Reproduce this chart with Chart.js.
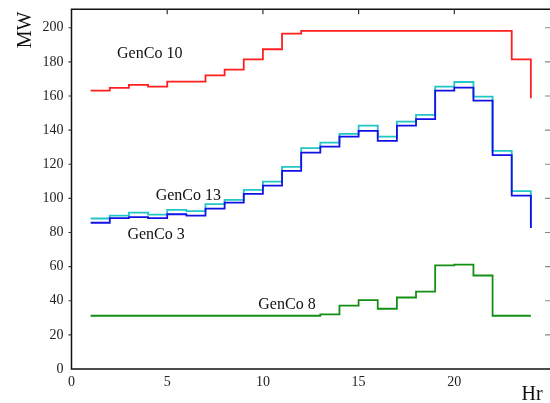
<!DOCTYPE html>
<html>
<head>
<meta charset="utf-8">
<script src="https://cdn.jsdelivr.net/npm/chart.js@4/dist/chart.umd.min.js"></script>
<style>
  html, body { margin: 0; padding: 0; background: #fff; }
  #chart { display: block; }
</style>
</head>
<body>
<canvas id="chart" width="550" height="403"></canvas>
<script>
// hourly dispatch (MW), hours 1..24
const hours = [1, 2, 3, 4, 5, 6, 7, 8, 9, 10, 11, 12, 13, 14, 15, 16, 17, 18, 19, 20, 21, 22, 23, 24];
const genco10 = [163.1, 164.7, 166.5, 165.5, 168.4, 168.4, 172.1, 175.4, 181.5, 187.4, 196.5, 198.1,
                 198.1, 198.1, 198.1, 198.1, 198.1, 198.1, 198.1, 198.1, 198.1, 198.1, 181.5, 158.7];
const genco13 = [88.2, 89.9, 91.7, 90.5, 93.3, 92.5, 96.6, 99.1, 105.0, 109.8, 118.4, 129.4,
                 132.7, 137.8, 142.6, 136.2, 145.0, 148.9, 165.5, 168.2, 159.6, 127.8, 104.2, 83.0];
const genco3  = [85.7, 88.4, 89.0, 88.4, 90.7, 89.9, 94.0, 97.5, 102.6, 107.5, 116.1, 126.8,
                 130.3, 136.2, 139.5, 133.7, 142.6, 146.4, 163.1, 164.9, 157.3, 125.3, 101.6, 82.6];
const genco8  = [31.2, 31.2, 31.2, 31.2, 31.2, 31.2, 31.2, 31.2, 31.2, 31.2, 31.2, 31.2,
                 32.0, 37.1, 40.4, 35.3, 41.9, 45.4, 60.7, 61.2, 54.8, 31.2, 31.2, 31.2];

const xTicks = [0, 5, 10, 15, 20];
const yTicks = [0, 20, 40, 60, 80, 100, 120, 140, 160, 180, 200];

// series labels placed in data units (left edge, baseline)
const labelNames = ['GenCo 10', 'GenCo 13', 'GenCo 3', 'GenCo 8'];
const labelAt = [[2.38, 182.1], [4.40, 99.1], [2.92, 76.1], [9.76, 35.1]];

const serif = '"Liberation Serif", "DejaVu Serif", serif';

function pts(vals) {
  return hours.map((h, i) => ({ x: h, y: vals[i] }));
}

function series(vals, color) {
  return {
    data: pts(vals),
    borderColor: color,
    borderWidth: 1.8,
    pointRadius: 0,
    stepped: 'before',
    fill: false
  };
}

// frame, tick marks and text drawn on top of the scales
const decor = {
  id: 'decor',
  afterDraw(chart) {
    const c = chart.ctx;
    const a = chart.chartArea;
    const xs = chart.scales.x, ys = chart.scales.y;
    c.save();

    // frame
    c.strokeStyle = '#111';
    c.lineWidth = 1.5;
    c.beginPath();
    c.moveTo(550, a.top);
    c.lineTo(a.left, a.top);
    c.lineTo(a.left, a.bottom);
    c.lineTo(550, a.bottom);
    c.stroke();

    // tick marks
    c.lineWidth = 1.2;
    c.strokeStyle = '#333';
    c.beginPath();
    xTicks.slice(1).forEach(v => {
      const px = xs.getPixelForValue(v);
      c.moveTo(px, a.top);
      c.lineTo(px, a.top + 5);
    });
    yTicks.slice(1).forEach(v => {
      const py = ys.getPixelForValue(v);
      c.moveTo(a.left - 3, py);
      c.lineTo(a.left, py);
    });
    c.stroke();
    c.strokeStyle = '#888';
    c.beginPath();
    yTicks.slice(1).forEach(v => {
      const py = ys.getPixelForValue(v);
      c.moveTo(545, py);
      c.lineTo(550, py);
    });
    c.stroke();

    // series labels
    c.fillStyle = '#111';
    c.font = '16px ' + serif;
    c.textBaseline = 'alphabetic';
    c.textAlign = 'left';
    labelNames.forEach((t, i) => {
      c.fillText(t, xs.getPixelForValue(labelAt[i][0]), ys.getPixelForValue(labelAt[i][1]));
    });

    // axis titles
    c.font = '20px ' + serif;
    c.fillText('Hr', 521.5, 400);
    c.translate(30.5, 30);
    c.rotate(-Math.PI / 2);
    c.textAlign = 'center';
    c.fillText('MW', 0, 0);
    c.restore();
  }
};

new Chart(document.getElementById('chart'), {
  type: 'line',
  data: {
    datasets: [
      series(genco3, '#1212e6'),
      series(genco13, '#22c6c6'),
      series(genco10, '#ff1f1f'),
      series(genco8, '#139013')
    ]
  },
  options: {
    responsive: false,
    animation: false,
    events: [],
    layout: { padding: { top: 9.3, left: 0, right: 0, bottom: 0 } },
    plugins: { legend: { display: false }, tooltip: { enabled: false } },
    scales: {
      x: {
        type: 'linear',
        min: 0,
        max: 25,
        afterBuildTicks: s => { s.ticks = xTicks.map(v => ({ value: v })); },
        afterFit: s => { s.height = 34; s.paddingLeft = 0; s.paddingRight = 0; },
        grid: { display: false, drawTicks: false },
        border: { display: false },
        ticks: { color: '#222', padding: 5, maxRotation: 0, font: { family: serif, size: 14 } }
      },
      y: {
        min: 0,
        max: 210.8,
        afterBuildTicks: s => { s.ticks = yTicks.map(v => ({ value: v })); },
        afterFit: s => { s.width = 71.5; s.paddingTop = 0; s.paddingBottom = 0; },
        grid: { display: false, drawTicks: false },
        border: { display: false },
        ticks: { color: '#222', padding: 8, font: { family: serif, size: 14 } }
      }
    }
  },
  plugins: [decor]
});
</script>
</body>
</html>
